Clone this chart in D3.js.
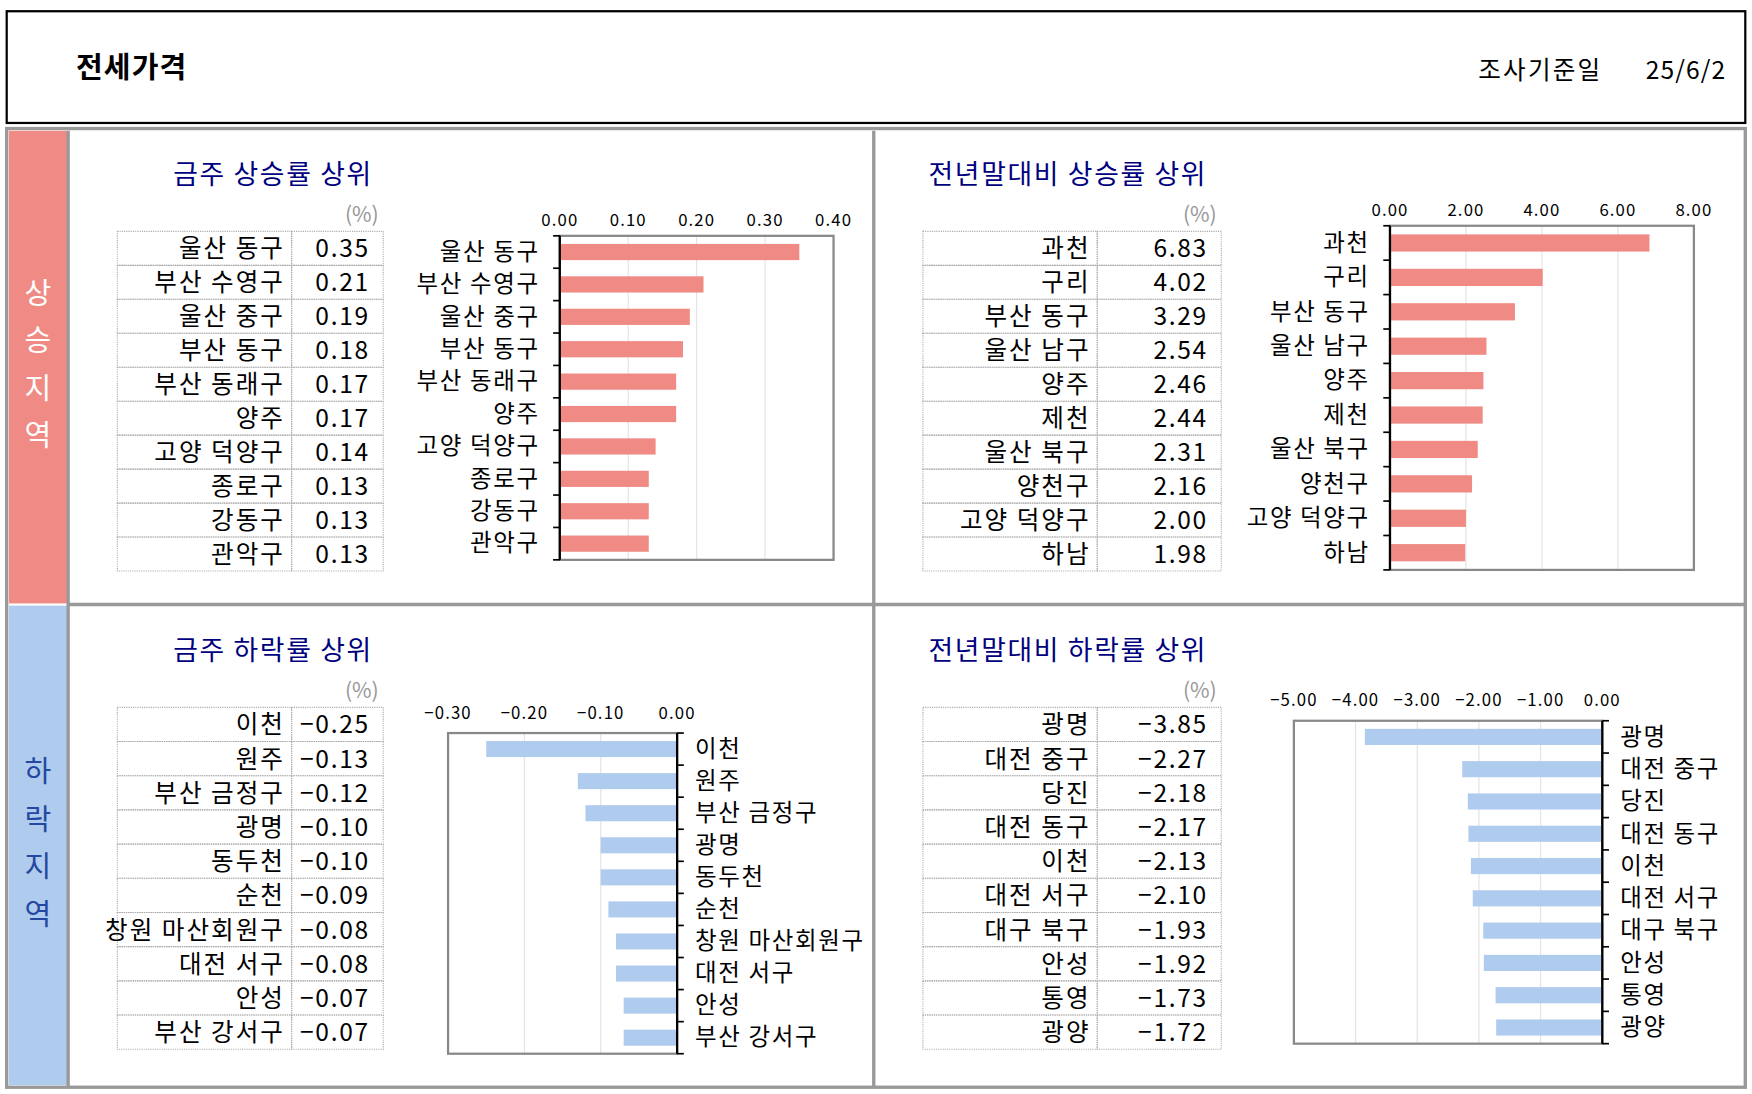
<!DOCTYPE html><html><head><meta charset="utf-8"><script src="https://cdn.jsdelivr.net/npm/d3@7"></script>
<style>body{margin:0;background:#fff}text{font-family:"Noto Sans CJK KR",sans-serif}</style></head><body><svg id="c" width="1752" height="1094" viewBox="0 0 1568 979"></svg><script>
const wkUpNames=["울산 동구","부산 수영구","울산 중구","부산 동구","부산 동래구","양주","고양 덕양구","종로구","강동구","관악구"];
const wkUpVals=[0.35,0.21,0.19,0.18,0.17,0.17,0.14,0.13,0.13,0.13];
const ytdUpNames=["과천","구리","부산 동구","울산 남구","양주","제천","울산 북구","양천구","고양 덕양구","하남"];
const ytdUpVals=[6.83,4.02,3.29,2.54,2.46,2.44,2.31,2.16,2.00,1.98];
const wkDnNames=["이천","원주","부산 금정구","광명","동두천","순천","창원 마산회원구","대전 서구","안성","부산 강서구"];
const wkDnVals=[-0.25,-0.13,-0.12,-0.10,-0.10,-0.09,-0.08,-0.08,-0.07,-0.07];
const ytdDnNames=["광명","대전 중구","당진","대전 동구","이천","대전 서구","대구 북구","안성","통영","광양"];
const ytdDnVals=[-3.85,-2.27,-2.18,-2.17,-2.13,-2.10,-1.93,-1.92,-1.73,-1.72];
const ticksWkUp=[0,0.1,0.2,0.3,0.4],ticksYtdUp=[0,2,4,6,8],ticksWkDn=[-0.3,-0.2,-0.1,0],ticksYtdDn=[-5,-4,-3,-2,-1,0];
const titles=["금주 상승률 상위","전년말대비 상승률 상위","금주 하락률 상위","전년말대비 하락률 상위"];
const fmt=v=>v.toFixed(2).replace("-","−");
const svg=d3.select("#c");
svg.append("rect").attr("x",6).attr("y",10).attr("width",1556).attr("height",100).attr("fill","none").attr("stroke","#000").attr("stroke-width",2);
svg.append("text").attr("x",68).attr("y",70).attr("font-size",26).attr("font-weight","bold").attr("letter-spacing",1).text("전세가격");
svg.append("text").attr("x",1323).attr("y",71).attr("font-size",22).attr("letter-spacing",2).text("조사기준일");
svg.append("text").attr("x",1545).attr("y",71).attr("font-size",22).attr("letter-spacing",1).attr("text-anchor","end").text("25/6/2");
svg.append("rect").attr("x",6).attr("y",115).attr("width",1556).attr("height",858).attr("fill","none").attr("stroke","#999").attr("stroke-width",3);
svg.append("rect").attr("x",8).attr("y",117).attr("width",52).attr("height",423).attr("fill","#F08A84");
svg.append("rect").attr("x",8).attr("y",542).attr("width",52).attr("height",429).attr("fill","#AFCBEE");
[[61,117,61,972],[61,541,1561,541],[782,117,782,972]].forEach(l=>svg.append("line").attr("x1",l[0]).attr("y1",l[1]).attr("x2",l[2]).attr("y2",l[3]).attr("stroke","#999").attr("stroke-width",3));
["상","승","지","역"].forEach((c,i)=>svg.append("text").attr("x",34).attr("y",272+i*42.5).attr("text-anchor","middle").attr("font-size",26).attr("fill","#fff").text(c));
["하","락","지","역"].forEach((c,i)=>svg.append("text").attr("x",34).attr("y",700+i*42.5).attr("text-anchor","middle").attr("font-size",26).attr("fill","#2448a0").text(c));
function panel(o){
  svg.append("text").attr("x",o.tx).attr("y",o.ty).attr("font-size",24).attr("letter-spacing",1.5).attr("fill","#000080").text(o.title);
  svg.append("text").attr("x",o.tb[1]-4).attr("y",o.ty+34).attr("font-size",19).attr("fill","#999").attr("text-anchor","end").text("(%)");
  const rh=(o.tb[4]-o.tb[3])/10, g=svg.append("g");
  o.names.forEach((n,i)=>{const y=o.tb[3]+i*rh;
    g.append("rect").attr("x",o.tb[0]).attr("y",y).attr("width",o.tb[2]-o.tb[0]).attr("height",rh).attr("fill","none").attr("stroke","#aaa").attr("stroke-dasharray","1,1");
    g.append("rect").attr("x",o.tb[2]).attr("y",y).attr("width",o.tb[1]-o.tb[2]).attr("height",rh).attr("fill","none").attr("stroke","#aaa").attr("stroke-dasharray","1,1");
    g.append("text").attr("x",o.tb[2]-6).attr("y",y+rh/2+8).attr("text-anchor","end").attr("font-size",22).attr("letter-spacing",1.8).text(n);
    g.append("text").attr("x",o.tb[1]-12).attr("y",y+rh/2+8).attr("text-anchor","end").attr("font-size",22).attr("letter-spacing",1.5).text(fmt(o.vals[i]));
  });
  const [x0,y0,x1,y1]=o.box;
  const x=d3.scaleLinear().domain(o.dom).range([x0,x1]);
  const y=d3.scaleBand().domain(o.names).range([y0,y1]).paddingInner(0.5).paddingOuter(0.25);
  const c=svg.append("g");
  c.selectAll(".g").data(o.ticks).join("line").attr("x1",d=>x(d)).attr("x2",d=>x(d)).attr("y1",y0).attr("y2",y1).attr("stroke","#e2e2e2");
  c.append("rect").attr("x",x0).attr("y",y0).attr("width",x1-x0).attr("height",y1-y0).attr("fill","none").attr("stroke","#888").attr("stroke-width",2);
  c.selectAll(".b").data(o.vals).join("rect").attr("x",d=>x(Math.min(0,d))).attr("width",d=>Math.abs(x(d)-x(0))).attr("y",(d,i)=>y(o.names[i])).attr("height",y.bandwidth()).attr("fill",o.color);
  c.selectAll(".t").data(o.ticks).join("text").attr("x",d=>x(d)).attr("y",y0-o.tkOff).attr("text-anchor","middle").attr("font-size",15).attr("letter-spacing",1).attr("font-family","DejaVu Sans").text(fmt);
  const ax=x(0), neg=o.dom[1]===0;
  c.append("line").attr("x1",ax).attr("x2",ax).attr("y1",y0).attr("y2",y1).attr("stroke","#000").attr("stroke-width",2);
  const step=(y1-y0)/10;
  d3.range(11).forEach(i=>c.append("line").attr("x1",ax).attr("x2",ax+(neg?6:-6)).attr("y1",y0+i*step).attr("y2",y0+i*step).attr("stroke","#000").attr("stroke-width",1.5));
  o.names.forEach((n,i)=>c.append("text").attr("x",neg?ax+16:ax-18).attr("y",y(n)+y.bandwidth()/2+7).attr("text-anchor",neg?"start":"end").attr("font-size",21).attr("letter-spacing",1.5).text(n));
}
panel({title:titles[0],tx:155,ty:165,tb:[105,343,261,207,511],names:wkUpNames,vals:wkUpVals,box:[501,211,746,501],dom:[0,0.4],ticks:ticksWkUp,tkOff:9,color:"#F08A84"});
panel({title:titles[1],tx:831,ty:165,tb:[826,1093,982,207,511],names:ytdUpNames,vals:ytdUpVals,box:[1244,202,1516,510],dom:[0,8],ticks:ticksYtdUp,tkOff:9,color:"#F08A84"});
panel({title:titles[2],tx:155,ty:591,tb:[105,343,261,633,939],names:wkDnNames,vals:wkDnVals,box:[401,656,606,943],dom:[-0.3,0],ticks:ticksWkDn,tkOff:13,color:"#AFCBEE"});
panel({title:titles[3],tx:831,ty:591,tb:[826,1093,982,633,939],names:ytdDnNames,vals:ytdDnVals,box:[1158,645,1434,934],dom:[-5,0],ticks:ticksYtdDn,tkOff:13,color:"#AFCBEE"});
</script></body></html>
